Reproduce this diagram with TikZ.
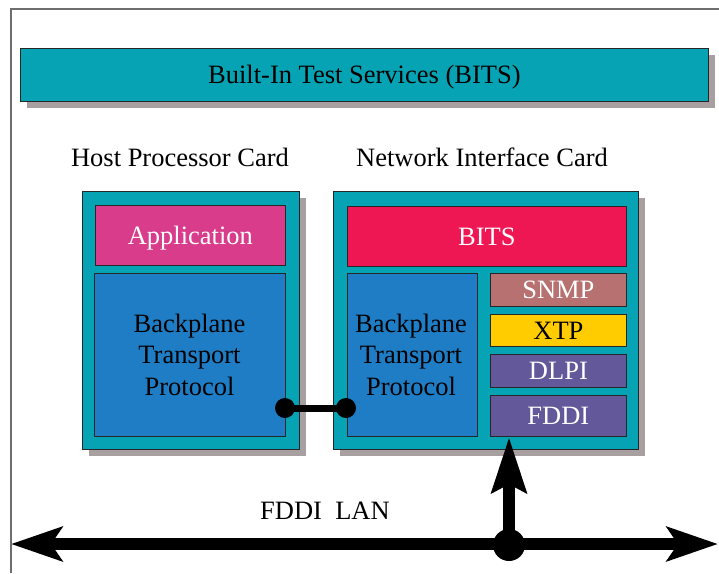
\documentclass[tikz,border=0pt]{standalone}
\usepackage{fontspec}
\setmainfont{Liberation Serif}
\usetikzlibrary{shadows,arrows.meta}
\definecolor{teal1}{HTML}{05A3B3}
\definecolor{appcol}{HTML}{D83C8A}
\definecolor{bitscol}{HTML}{EE1653}
\definecolor{bluecol}{HTML}{1F7DC6}
\definecolor{snmpcol}{HTML}{B87171}
\definecolor{xtpcol}{HTML}{FFCC00}
\definecolor{purpcol}{HTML}{62589A}
\definecolor{shadowcol}{HTML}{A8A0A0}
\definecolor{framecol}{HTML}{6E6E6E}
\tikzset{
  box/.style={draw=black!85, line width=0.8pt, anchor=north west, inner sep=0pt, align=center,
    text height=18pt, text depth=0pt,
    font=\fontsize{26.5}{31.5}\selectfont},
  shadowed/.style={drop shadow={shadow xshift=7pt, shadow yshift=-7pt, fill=shadowcol, opacity=1}},
  lbl/.style={inner sep=0pt, font=\fontsize{26.5}{31.5}\selectfont},
  caplbl/.style={lbl, text height=18pt, text depth=0pt},
  dot/.style={circle, fill=black, minimum size=20pt, inner sep=0pt},
  bigdot/.style={circle, fill=black, minimum size=32pt, inner sep=0pt},
  thickline/.style={line width=7pt},
  lanline/.style={line width=12pt, {Stealth[length=51pt, width=34pt, inset=11pt]}-{Stealth[length=51pt, width=34pt, inset=11pt]}},
  upline/.style={line width=12pt, -{Stealth[length=55pt, width=34pt, inset=8pt]}},
}
\begin{document}
\begin{tikzpicture}[x=1pt, y=-1pt]
\useasboundingbox (0,0) rectangle (719,573);
% frame
\draw[framecol, line width=1.5pt] (11,573) -- (11,9) -- (719,9);
% top bar
\node[box, shadowed, fill=teal1, minimum width=688pt, minimum height=53pt] (bar) at (20,48) {};
\node[caplbl] (bartext) at (bar.center) {Built-In Test Services (BITS)};
% titles
\node[lbl, anchor=base] (hpc) at (180,166) {Host Processor Card};
\node[lbl, anchor=base] (nic) at (482,166) {Network Interface Card};
% left card
\node[box, shadowed, fill=teal1, minimum width=217pt, minimum height=258pt] (lcard) at (82,191) {};
\node[box, fill=appcol, text=white, minimum width=190pt, minimum height=60pt] (app) at (95,205) {Application};
\node[box, fill=bluecol, minimum width=191pt, minimum height=163pt] (lbp) at (94,273) {};
\node[lbl, align=center, anchor=base] (lbptext) at (189.5,395) {Backplane\\Transport\\Protocol};
% right card
\node[box, shadowed, fill=teal1, minimum width=305pt, minimum height=258pt] (rcard) at (333,191) {};
\node[box, fill=bitscol, text=white, minimum width=279pt, minimum height=60pt] (bits) at (347,206) {BITS};
\node[box, fill=bluecol, minimum width=130pt, minimum height=163pt] (rbp) at (347,273) {};
\node[lbl, align=center, anchor=base] (rbptext) at (411,395) {Backplane\\Transport\\Protocol};
\node[box, fill=snmpcol, text=white, minimum width=136pt, minimum height=33pt] (snmp) at (490,273) {SNMP};
\node[box, fill=xtpcol, text=black, minimum width=136pt, minimum height=32pt] (xtp) at (490,314) {XTP};
\node[box, fill=purpcol, text=white, minimum width=136pt, minimum height=33pt] (dlpi) at (490,354) {DLPI};
\node[box, fill=purpcol, text=white, minimum width=136pt, minimum height=41pt] (fddi) at (490,395) {FDDI};
% backplane link
\node[dot] (d1) at (285,408) {};
\node[dot] (d2) at (346,408) {};
\draw[thickline] (d1.center) -- (d2.center);
% LAN
\coordinate (lanL) at (11,544);
\coordinate (lanR) at (718,544);
\draw[lanline] (lanL) -- (lanR);
\node[lbl, anchor=base] (lantext) at (325,519) {FDDI\ \ LAN};
\node[bigdot] (tap) at (509,545) {};
\coordinate (fddiin) at (509,437);
\draw[upline] (tap.center) -- (fddiin);
\end{tikzpicture}
\end{document}
